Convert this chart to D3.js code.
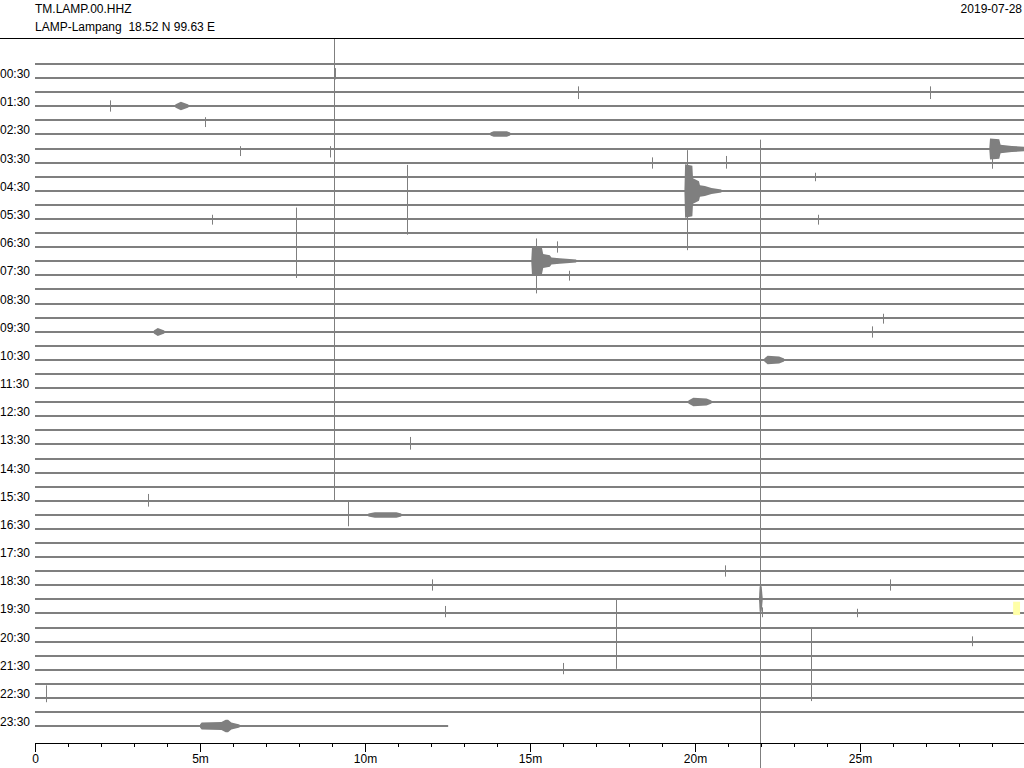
<!DOCTYPE html>
<html><head><meta charset="utf-8">
<script src="https://cdn.jsdelivr.net/npm/d3@7/dist/d3.min.js"></script>
<style>
html,body{margin:0;padding:0;background:#fff;}
svg{display:block;font-family:"Liberation Sans",Arial,Helvetica,sans-serif;}
</style></head>
<body>
<svg id="chart" width="1024" height="768"></svg>
<script>
// ---------- DATA ----------
const stationCode = "TM.LAMP.00.HHZ";
const stationName = "LAMP-Lampang  18.52 N 99.63 E";
const dateLabel = "2019-07-28";
const rowCount = 48;               // 30-minute lines
const rowMinutes = 30;
const lastRowEnd = 12.52;          // minutes of data in last line
const rowLabels = ["00:30","01:30","02:30","03:30","04:30","05:30","06:30","07:30","08:30","09:30","10:30","11:30",
                   "12:30","13:30","14:30","15:30","16:30","17:30","18:30","19:30","20:30","21:30","22:30","23:30"];
const minuteTicks = [0,1,2,3,4,5,6,7,8,9,10,11,12,13,14,15,16,17,18,19,20,21,22,23,24,25,26,27,28,29];
const majorTickLabels = {0:"0",5:"5m",10:"10m",15:"15m",20:"20m",25:"25m"};

// spikes: [row, minute, amplitude up, amplitude down] (in line-spacing units)
const spikes = [
  [0, 9.06, 2.0, 31.0],
  [1, 9.09, 0.7, 0.1],
  [38, 21.97, 32.6, 12.5],
  [13, 7.91, 2.8, 2.2],
  [9, 11.27, 1.85, 3.1],
  [9, 19.76, 2.9, 4.2],
  [14, 15.18, 1.6, 2.3],
  [40, 17.60, 2.05, 2.9],
  [42, 23.52, 2.05, 3.2],
  [32, 9.48, 1.0, 0.8],
  [6, 29.00, 0.6, 1.4],
  [2, 16.45, 0.4, 0.5],
  [2, 27.12, 0.4, 0.5],
  [3, 2.27, 0.4, 0.4],
  [4, 5.15, 0.2, 0.5],
  [6, 8.94, 0.2, 0.6],
  [6, 6.21, 0.2, 0.5],
  [7, 18.70, 0.4, 0.4],
  [7, 20.94, 0.5, 0.4],
  [8, 23.64, 0.3, 0.3],
  [11, 5.36, 0.3, 0.4],
  [11, 23.73, 0.3, 0.4],
  [13, 15.82, 0.4, 0.4],
  [15, 16.18, 0.3, 0.4],
  [18, 25.70, 0.3, 0.4],
  [19, 25.36, 0.4, 0.4],
  [27, 11.36, 0.5, 0.4],
  [31, 3.42, 0.5, 0.4],
  [36, 20.90, 0.4, 0.4],
  [37, 12.03, 0.4, 0.4],
  [37, 25.90, 0.4, 0.4],
  [39, 12.42, 0.5, 0.3],
  [39, 24.90, 0.3, 0.3],
  [39, 22.03, 0.4, 0.3],
  [41, 28.40, 0.4, 0.3],
  [43, 16.00, 0.5, 0.3],
  [45, 0.33, 0.9, 0.3]
];

// envelopes: row and [minute, half-amplitude] points
const envelopes = [
  {row: 9,  pts: [[19.68,0.1],[19.70,1.9],[19.92,1.8],[19.94,0.9],[20.12,0.7],[20.15,0.4],[20.30,0.35],[20.50,0.22],[20.80,0.1]]},
  {row: 14, pts: [[15.04,0.1],[15.06,1.0],[15.36,0.95],[15.40,0.5],[15.60,0.4],[15.65,0.25],[15.90,0.2],[16.40,0.1]]},
  {row: 6,  pts: [[28.92,0.1],[28.94,0.75],[29.22,0.7],[29.26,0.3],[29.60,0.22],[30.00,0.15]]},
  {row: 47, pts: [[5.00,0.1],[5.05,0.25],[5.65,0.28],[5.78,0.45],[5.85,0.45],[5.95,0.25],[6.20,0.1]]},
  {row: 3,  pts: [[4.25,0.1],[4.42,0.3],[4.65,0.1]]},
  {row: 5,  pts: [[13.80,0.1],[13.90,0.2],[14.30,0.2],[14.40,0.1]]},
  {row: 19, pts: [[3.60,0.1],[3.72,0.28],[3.92,0.1]]},
  {row: 21, pts: [[22.10,0.1],[22.20,0.3],[22.55,0.25],[22.70,0.1]]},
  {row: 24, pts: [[19.80,0.1],[19.95,0.3],[20.35,0.25],[20.50,0.1]]},
  {row: 32, pts: [[10.10,0.1],[10.30,0.2],[10.95,0.2],[11.10,0.1]]},
  {row: 38, pts: [[21.94,0.1],[21.96,0.9],[22.02,0.9],[22.05,0.1]]}
];

// highlighted (yellow) marker: row, start minute, end minute
const markers = [[39, 29.64, 29.85]];

// ---------- DRAW ----------
const W = 1024, H = 768;
const svg = d3.select("#chart");
const x = d3.scaleLinear().domain([0, rowMinutes]).range([35, 1025]);
const rowRaw = d3.scaleLinear().domain([0, rowCount - 1]).range([64, 726.2]);
const row = i => Math.round(rowRaw(i));
const rowH = rowRaw(1) - rowRaw(0);
const amp = d3.scaleLinear().domain([0, 1]).range([0, rowH]);
const gray = "#7f7f7f";

// header
svg.append("text").attr("x", 35).attr("y", 13).attr("font-size", 12).text(stationCode);
svg.append("text").attr("x", 35).attr("y", 31).attr("font-size", 12).style("white-space","pre").text(stationName);
svg.append("text").attr("x", 1022).attr("y", 13).attr("font-size", 12).attr("text-anchor", "end").text(dateLabel);
svg.append("line").attr("x1", 0).attr("x2", W).attr("y1", 38.5).attr("y2", 38.5).attr("stroke", "#000").attr("stroke-width", 1);

svg.append("clipPath").attr("id", "plotclip").append("rect").attr("x", 0).attr("y", 39).attr("width", W).attr("height", H - 39);
const plot = svg.append("g").attr("clip-path", "url(#plotclip)");

// row labels
svg.append("g").selectAll("text").data(rowLabels).join("text")
  .attr("x", 0).attr("y", (d, i) => row(2 * i + 1) - 0.5)
  .attr("font-size", 12).attr("fill", "#000").text(d => d);

// baselines
const rows = d3.range(rowCount);
plot.append("g").selectAll("line").data(rows).join("line")
  .attr("x1", x(0))
  .attr("x2", d => d === rowCount - 1 ? x(lastRowEnd) : x(rowMinutes))
  .attr("y1", d => row(d)).attr("y2", d => row(d))
  .attr("stroke", gray).attr("stroke-width", 2);

// envelopes
const area = d3.area()
  .x(p => x(p[0]))
  .y0(p => p.r + amp(p[1]))
  .y1(p => p.r - amp(p[1]));
plot.append("g").selectAll("path").data(envelopes).join("path")
  .attr("d", e => area(e.pts.map(p => Object.assign([p[0], p[1]], {r: row(e.row)}))))
  .attr("fill", gray);

// spikes
plot.append("g").selectAll("line").data(spikes).join("line")
  .attr("x1", d => Math.round(x(d[1])) + 0.5).attr("x2", d => Math.round(x(d[1])) + 0.5)
  .attr("y1", d => row(d[0]) - amp(d[2]))
  .attr("y2", d => row(d[0]) + amp(d[3]))
  .attr("stroke", gray).attr("stroke-width", 1);

// markers
plot.append("g").selectAll("rect").data(markers).join("rect")
  .attr("x", d => x(d[1])).attr("width", d => x(d[2]) - x(d[1]))
  .attr("y", d => row(d[0]) - amp(0.8)).attr("height", amp(0.95))
  .attr("fill", "#ffffa8");

// x axis
const axisY = 743;
const axis = d3.axisBottom(x).tickValues(minuteTicks)
  .tickSize(4).tickSizeOuter(0)
  .tickFormat(t => majorTickLabels[t] !== undefined ? majorTickLabels[t] : "");
const ag = svg.append("g").attr("transform", `translate(0,${axisY})`).call(axis);
ag.select(".domain").attr("d", `M${x(0)},0.5H${W}`).attr("stroke", "#000");
ag.selectAll(".tick line").attr("stroke", "#000").attr("y2", t => majorTickLabels[t] !== undefined ? 9 : 4);
ag.selectAll(".tick text").attr("font-size", 12).attr("fill", "#000").attr("font-family", "Liberation Sans, Arial, sans-serif").attr("y", 11);
</script>
</body></html>
